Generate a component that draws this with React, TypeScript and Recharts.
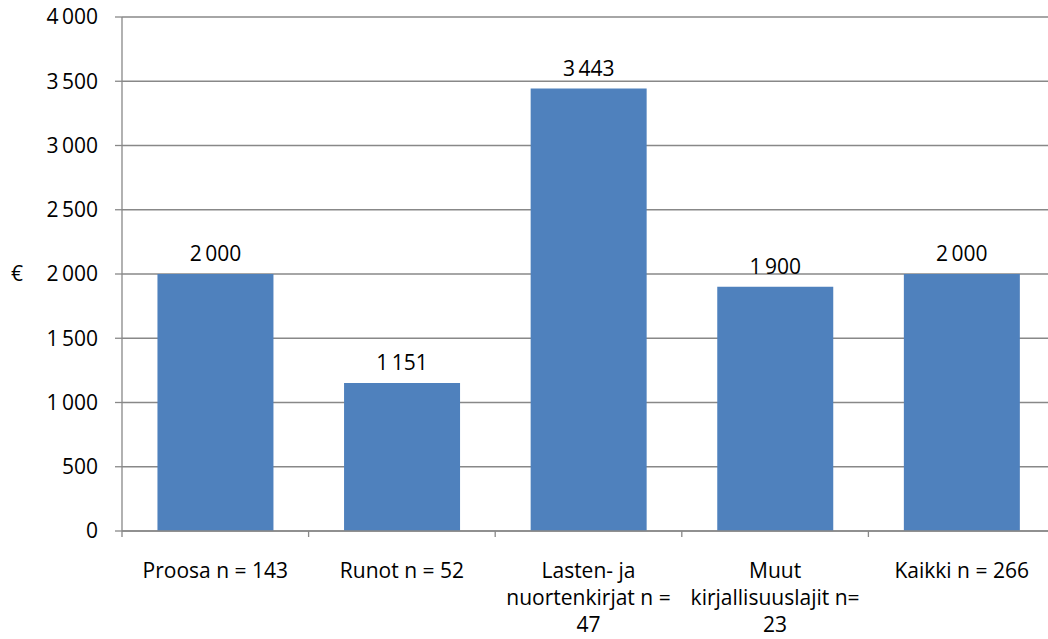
import { BarChart, Bar, XAxis, YAxis, CartesianGrid, LabelList } from "recharts";

// categories ("\n" marks where the label wraps), values, y ticks
const CATEGORIES = [
  "Proosa n = 143",
  "Runot n = 52",
  "Lasten- ja\nnuortenkirjat n =\n47",
  "Muut\nkirjallisuuslajit n=\n23",
  "Kaikki n = 266",
];
const VALUES = [2000, 1151, 3443, 1900, 2000];
const Y_TICKS = [0, 500, 1000, 1500, 2000, 2500, 3000, 3500, 4000];

const data = CATEGORIES.map((c, i) => ({ name: c, value: VALUES[i] }));

const FONT = "'Open Sans', sans-serif";
const FS = 21;
const GRID = "#888888";
const BAR = "#4F81BD";

const fmt = (v: number) => String(v).replace(/\B(?=(\d{3})+(?!\d))/g, "\u2009");

// x tick: wrapped label at the category centre, tick mark at the category's left boundary
function XTick(props: any) {
  const { x, y, payload } = props;
  const lines = String(payload.value).split("\n");
  const half = payload.offset || 0;
  return (
    <g>
      <line x1={x - half} x2={x - half} y1={y - 6} y2={y} stroke={GRID} strokeWidth={1.3} />
      {lines.map((l, i) => (
        <text
          key={i}
          x={x}
          y={y + 33 + i * 27}
          textAnchor="middle"
          dominantBaseline="central"
          fontSize={FS}
          fontFamily={FONT}
          fill="#000"
        >
          {l}
        </text>
      ))}
    </g>
  );
}

export default function App() {
  return (
    <div style={{ position: "absolute", left: 0, top: 0, width: 1048, height: 639, overflow: "hidden", background: "#fff" }}>
      <BarChart
        width={1060}
        height={639}
        data={data}
        margin={{ top: 17, right: 5, bottom: 0, left: 0 }}
        barCategoryGap="19%"
      >
        <CartesianGrid vertical={false} stroke={GRID} strokeWidth={1.3} />
        <XAxis
          dataKey="name"
          axisLine={{ stroke: GRID, strokeWidth: 1.3 }}
          tickLine={false}
          tickSize={6}
          tickMargin={0}
          height={108}
          interval={0}
          tick={<XTick />}
        />
        <YAxis
          width={122}
          domain={[0, 4000]}
          ticks={Y_TICKS}
          tickFormatter={fmt}
          axisLine={{ stroke: GRID, strokeWidth: 1.3 }}
          tickLine={{ stroke: GRID, strokeWidth: 1.3 }}
          tickSize={7}
          tickMargin={17}
          tick={{ fontSize: FS, fontFamily: FONT, fill: "#000" }}
          label={{ value: "€", position: "insideLeft", offset: 11, fontSize: FS, fontFamily: FONT, fill: "#000" }}
        />
        <Bar dataKey="value" fill={BAR} isAnimationActive={false}>
          <LabelList
            dataKey="value"
            position="top"
            offset={13}
            formatter={(v: any) => fmt(Number(v))}
            style={{ fontSize: FS, fontFamily: FONT, fill: "#000" }}
          />
        </Bar>
      </BarChart>
    </div>
  );
}
